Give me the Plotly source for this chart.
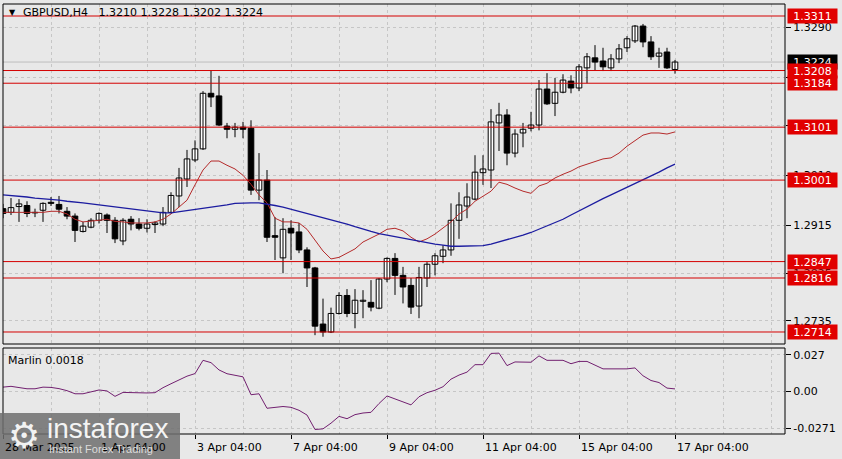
import plotly.graph_objects as go

# ---------------- data ----------------
opens = [1.2947,1.2940,1.2951,1.2953,1.2939,1.2944,1.2959,1.2955,1.2942,1.2933,
         1.2904,1.2912,1.2925,1.2935,1.2925,1.2886,1.2927,1.2918,1.2910,1.2917,
         1.2918,1.2940,1.2971,1.3003,1.3039,1.3060,1.3165,1.3160,1.3103,1.3097,
         1.3101,1.3099,1.2982,1.3001,1.2896,1.2854,1.2910,1.2903,1.2869,1.2835,
         1.2729,1.2714,1.2749,1.2783,1.2749,1.2772,1.2770,1.2759,1.2814,1.2853,
         1.2821,1.2802,1.2763,1.2816,1.2842,1.2857,1.2869,1.2925,1.2952,1.2965,
         1.3015,1.3020,1.3109,1.3124,1.3052,1.3090,1.3099,1.3105,1.3173,1.3146,
         1.3167,1.3188,1.3175,1.3213,1.3232,1.3226,1.3213,1.3230,1.3251,1.3264,
         1.3292,1.3262,1.3235,1.3243,1.3210]
highs = [1.2956,1.2967,1.2965,1.2961,1.2947,1.2959,1.2969,1.2971,1.2950,1.2938,
         1.2922,1.2929,1.2940,1.2938,1.2931,1.2929,1.2933,1.2929,1.2927,1.2923,
         1.2950,1.2978,1.3024,1.3058,1.3076,1.3169,1.3209,1.3198,1.3109,1.3109,
         1.3111,1.3114,1.3052,1.3020,1.2931,1.2929,1.2925,1.2920,1.2874,1.2837,
         1.2777,1.2760,1.2789,1.2795,1.2795,1.2793,1.2812,1.2816,1.2855,1.2863,
         1.2837,1.2816,1.2837,1.2846,1.2863,1.2878,1.2957,1.2978,1.2995,1.3048,
         1.3048,1.3135,1.3147,1.3135,1.3097,1.3109,1.3130,1.3190,1.3203,1.3194,
         1.3201,1.3199,1.3220,1.3241,1.3256,1.3251,1.3239,1.3258,1.3273,1.3294,
         1.3296,1.3273,1.3251,1.3251,1.3228]
lows = [1.2929,1.2935,1.2922,1.2931,1.2931,1.2922,1.2952,1.2938,1.2927,1.2884,
        1.2902,1.2910,1.2919,1.2901,1.2882,1.2878,1.2906,1.2906,1.2902,1.2901,
        1.2914,1.2938,1.2950,1.2988,1.3035,1.3058,1.3139,1.3103,1.3080,1.3082,
        1.3080,1.2973,1.2963,1.2884,1.2850,1.2825,1.2850,1.2863,1.2799,1.2708,
        1.2705,1.2712,1.2747,1.2742,1.2721,1.2740,1.2753,1.2757,1.2808,1.2784,
        1.2768,1.2748,1.2740,1.2799,1.2821,1.2844,1.2858,1.2890,1.2929,1.2963,
        1.2992,1.2986,1.3056,1.3029,1.3044,1.3063,1.3093,1.3095,1.3143,1.3122,
        1.3165,1.3165,1.3169,1.3184,1.3209,1.3207,1.3207,1.3222,1.3243,1.3260,
        1.3252,1.3228,1.3213,1.3211,1.3202]
closes = [1.2938,1.2949,1.2956,1.2938,1.2940,1.2957,1.2957,1.2946,1.2933,1.2906,
          1.2914,1.2925,1.2938,1.2925,1.2890,1.2925,1.2918,1.2910,1.2918,1.2920,
          1.2940,1.2972,1.3005,1.3041,1.3060,1.3165,1.3158,1.3105,1.3097,1.3101,
          1.3097,1.2982,1.3001,1.2893,1.2893,1.2908,1.2901,1.2869,1.2835,1.2725,
          1.2714,1.2749,1.2783,1.2749,1.2774,1.2774,1.2761,1.2814,1.2853,1.2821,
          1.2799,1.2761,1.2817,1.2842,1.2858,1.2869,1.2925,1.2954,1.2969,1.3016,
          1.3022,1.3111,1.3124,1.3052,1.3088,1.3097,1.3105,1.3173,1.3145,1.3167,
          1.3190,1.3175,1.3215,1.3234,1.3224,1.3215,1.3230,1.3249,1.3268,1.3292,
          1.3262,1.3234,1.3241,1.3213,1.3224]
ma_fast = [1.2940,1.2940,1.2939,1.2939,1.2939,1.2940,1.2942,1.2942,1.2937,1.2927,
           1.2922,1.2923,1.2925,1.2927,1.2923,1.2922,1.2920,1.2920,1.2920,1.2922,
           1.2927,1.2937,1.2950,1.2963,1.2992,1.3020,1.3037,1.3037,1.3029,1.3022,
           1.3010,1.2993,1.2973,1.2958,1.2929,1.2922,1.2922,1.2920,1.2908,1.2888,
           1.2867,1.2852,1.2855,1.2863,1.2871,1.2884,1.2891,1.2899,1.2908,1.2910,
           1.2905,1.2893,1.2884,1.2890,1.2899,1.2910,1.2922,1.2937,1.2946,1.2961,
           1.2971,1.2980,1.2997,1.2993,1.2986,1.2980,1.2976,1.2990,1.2995,1.3005,
           1.3012,1.3018,1.3026,1.3031,1.3037,1.3041,1.3043,1.3052,1.3065,1.3076,
           1.3086,1.3090,1.3090,1.3088,1.3092]
ma_slow = [1.2973,1.2972,1.2970,1.2969,1.2967,1.2966,1.2964,1.2963,1.2961,1.2960,
           1.2958,1.2956,1.2954,1.2952,1.2950,1.2948,1.2946,1.2944,1.2942,1.2940,
           1.2939,1.2939,1.2941,1.2943,1.2945,1.2947,1.2950,1.2952,1.2954,1.2957,
           1.2958,1.2958,1.2958,1.2956,1.2953,1.2950,1.2946,1.2943,1.2939,1.2935,
           1.2931,1.2927,1.2922,1.2918,1.2913,1.2908,1.2904,1.2900,1.2897,1.2894,
           1.2891,1.2889,1.2886,1.2883,1.2880,1.2878,1.2876,1.2876,1.2876,1.2877,
           1.2877,1.2880,1.2884,1.2888,1.2893,1.2897,1.2902,1.2908,1.2914,1.2920,
           1.2927,1.2935,1.2943,1.2951,1.2959,1.2966,1.2973,1.2980,1.2988,1.2995,
           1.3002,1.3009,1.3016,1.3024,1.3031]
marlin = [0.0031,0.0037,0.0028,0.0019,0.0019,0.0031,0.0029,0.0020,0.0005,-0.0018,
          -0.0018,-0.0005,0.0010,0.0003,-0.0037,-0.0008,-0.0010,-0.0015,-0.0012,-0.0010,
          0.0027,0.0056,0.0085,0.0112,0.0131,0.0229,0.0212,0.0158,0.0130,0.0120,
          0.0107,-0.0025,-0.0018,-0.0125,-0.0120,-0.0112,-0.0118,-0.0140,-0.0175,-0.0282,
          -0.0277,-0.0235,-0.0185,-0.0202,-0.0172,-0.0160,-0.0155,-0.0090,-0.0034,-0.0058,
          -0.0078,-0.0100,-0.0040,-0.0010,0.0008,0.0034,0.0090,0.0120,0.0142,0.0197,
          0.0197,0.0280,0.0282,0.0190,0.0217,0.0216,0.0215,0.0262,0.0229,0.0229,
          0.0229,0.0204,0.0221,0.0221,0.0195,0.0166,0.0166,0.0166,0.0166,0.0173,
          0.0115,0.0080,0.0065,0.0024,0.0018]

levels = [1.3311, 1.3208, 1.3184, 1.3101, 1.3001, 1.2847, 1.2816, 1.2714]
last_price = 1.3224
price_ticks = [1.3290, 1.3195, 1.3105, 1.3010, 1.2915, 1.2825, 1.2735]
price_tick_text = ["1.3290", "1.3195", "1.3105", "1.3010", "1.2915", "1.2825", "1.2735"]
ind_ticks = [0.027, 0.0, -0.0271]
ind_tick_text = ["0.027", "0.00", "-0.0271"]
date_pos = [0, 12, 24, 36, 48, 60, 72, 84]
date_labels = ["28 Mar 2025", "1 Apr 04:00", "3 Apr 04:00", "7 Apr 04:00",
               "9 Apr 04:00", "11 Apr 04:00", "15 Apr 04:00", "17 Apr 04:00"]
title_text = "GBPUSD,H4\u00a0\u00a0 1.3210 1.3228 1.3202 1.3224"
ind_label = "Marlin 0.0018"

# ---------------- figure ----------------
FONT = "DejaVu Sans"
BG = "#e8e8e8"
GRID = "#c6c6c6"
n = len(opens)
idx = list(range(n))

fig = go.Figure()

# wicks
wx, wy = [], []
for i in idx:
    wx += [i, i, None]
    wy += [lows[i], highs[i], None]
fig.add_trace(go.Scatter(x=wx, y=wy, mode="lines", line=dict(color="black", width=1),
                         xaxis="x2", yaxis="y", hoverinfo="skip"))

up = [i for i in idx if closes[i] >= opens[i]]
dn = [i for i in idx if closes[i] < opens[i]]
fig.add_trace(go.Bar(x=up, base=[opens[i] for i in up], y=[closes[i] - opens[i] for i in up],
                     width=0.7, marker=dict(color="white", line=dict(color="black", width=1)),
                     xaxis="x2", yaxis="y"))
fig.add_trace(go.Bar(x=dn, base=[closes[i] for i in dn], y=[opens[i] - closes[i] for i in dn],
                     width=0.7, marker=dict(color="black", line=dict(color="black", width=1)),
                     xaxis="x2", yaxis="y"))

fig.add_trace(go.Scatter(x=idx, y=ma_fast, mode="lines", line=dict(color="#b52a2a", width=1),
                         xaxis="x2", yaxis="y"))
fig.add_trace(go.Scatter(x=idx, y=ma_slow, mode="lines", line=dict(color="#1c1ca0", width=1.3),
                         xaxis="x2", yaxis="y"))
fig.add_trace(go.Scatter(x=idx, y=marlin, mode="lines", line=dict(color="#722070", width=1),
                         xaxis="x", yaxis="y2"))

MAIN_BOTTOM = 90 / 430
IND_TOP = 86 / 430

def px_x(p):
    return (p - 3) / 782

def px_y(p):
    return (434 - p) / 430

grid_common = dict(showgrid=True, gridcolor=GRID, griddash="dot", gridwidth=1,
                   zeroline=False, automargin=False)

fig.update_layout(
    width=842, height=459,
    margin=dict(l=3, r=57, t=4, b=25, autoexpand=False),
    paper_bgcolor=BG, plot_bgcolor=BG,
    showlegend=False, barmode="overlay",
    font=dict(family=FONT, size=11, color="black"),
    xaxis=dict(domain=[0, 1], anchor="y2", range=[0, 97.75],
               tickmode="array", tickvals=date_pos, showticklabels=False,
               ticks="outside", ticklen=4, tickcolor="black",
               minor=dict(tickmode="linear", tick0=0, dtick=6, showgrid=True,
                          gridcolor=GRID, griddash="dot", ticks=""),
               **grid_common),
    xaxis2=dict(domain=[0, 1], anchor="y", matches="x",
                tickmode="array", tickvals=date_pos, showticklabels=False, ticks="",
                minor=dict(tickmode="linear", tick0=0, dtick=6, showgrid=True,
                           gridcolor=GRID, griddash="dot", ticks=""),
                **grid_common),
    yaxis=dict(domain=[MAIN_BOTTOM, 1], anchor="x2", side="right",
               range=[1.26913, 1.33337], tickmode="array",
               tickvals=price_ticks, ticktext=price_tick_text,
               ticks="outside", ticklen=5, tickcolor="black", **grid_common),
    yaxis2=dict(domain=[0, IND_TOP], anchor="x", side="right",
                range=[-0.0315, 0.032], tickmode="array",
                tickvals=ind_ticks, ticktext=ind_tick_text,
                ticks="outside", ticklen=5, tickcolor="black", **grid_common),
)

shapes = []
# current price line
shapes.append(dict(type="line", xref="paper", x0=0, x1=1, yref="y", y0=last_price, y1=last_price,
                   line=dict(color="#bdbdbd", width=1), layer="below"))
for lv in levels:
    shapes.append(dict(type="line", xref="paper", x0=0, x1=1, yref="y", y0=lv, y1=lv,
                       line=dict(color="#d40000", width=1)))
# panel frames
shapes.append(dict(type="rect", xref="paper", yref="paper", x0=0, x1=1, y0=MAIN_BOTTOM, y1=1,
                   line=dict(color="black", width=1), fillcolor="rgba(0,0,0,0)"))
shapes.append(dict(type="rect", xref="paper", yref="paper", x0=0, x1=1, y0=0, y1=IND_TOP,
                   line=dict(color="black", width=1), fillcolor="rgba(0,0,0,0)"))
# watermark box
shapes.append(dict(type="rect", xref="paper", yref="paper", x0=px_x(0), x1=px_x(180),
                   y0=px_y(459), y1=px_y(413), fillcolor="#6f6f6f", opacity=0.85,
                   line=dict(width=0), layer="above"))
fig.update_layout(shapes=shapes)

ann = []
# date labels
for p, t in zip(date_pos, date_labels):
    ann.append(dict(x=p, xref="x", y=0, yref="paper", yanchor="top", xanchor="left",
                    yshift=-5, text=t, showarrow=False, font=dict(size=11)))
# current price label
ann.append(dict(x=1, xref="paper", xanchor="left", xshift=2, y=last_price, yref="y",
                text=f"{last_price:.4f}", showarrow=False, bgcolor="black",
                font=dict(color="white", size=11), width=49, height=14, borderpad=0))
# level labels
for lv in levels:
    ann.append(dict(x=1, xref="paper", xanchor="left", xshift=2, y=lv, yref="y",
                    text=f"{lv:.4f}", showarrow=False, bgcolor="#e10000",
                    font=dict(color="white", size=11), width=49, height=14, borderpad=0))
# title
ann.append(dict(x=px_x(7), xref="paper", y=px_y(13), yref="paper", xanchor="left",
                yanchor="middle", text="▼", showarrow=False, font=dict(size=8)))
ann.append(dict(x=px_x(21), xref="paper", y=px_y(13), yref="paper", xanchor="left",
                yanchor="middle", text=title_text, showarrow=False, font=dict(size=11)))
# indicator label
ann.append(dict(x=px_x(6), xref="paper", y=px_y(360), yref="paper", xanchor="left",
                yanchor="middle", text=ind_label, showarrow=False, font=dict(size=11)))
# watermark texts
ann.append(dict(x=px_x(24), xref="paper", y=px_y(435), yref="paper", xanchor="center",
                yanchor="middle", text="⚙", showarrow=False,
                font=dict(size=36, color="#f2f2f2", family="DejaVu Sans")))
ann.append(dict(x=px_x(45), xref="paper", y=px_y(428), yref="paper", xanchor="left",
                yanchor="middle", text="instaforex", showarrow=False,
                font=dict(size=28, color="#f4f4f4", family="Liberation Sans")))
ann.append(dict(x=px_x(47), xref="paper", y=px_y(449), yref="paper", xanchor="left",
                yanchor="middle", text="Instant Forex Trading", showarrow=False,
                font=dict(size=11, color="#dcdcdc", family="Liberation Sans")))
fig.update_layout(annotations=ann)

fig.write_html("out.html", config={"displayModeBar": False},
               post_script="document.body.style.margin='0px';")
